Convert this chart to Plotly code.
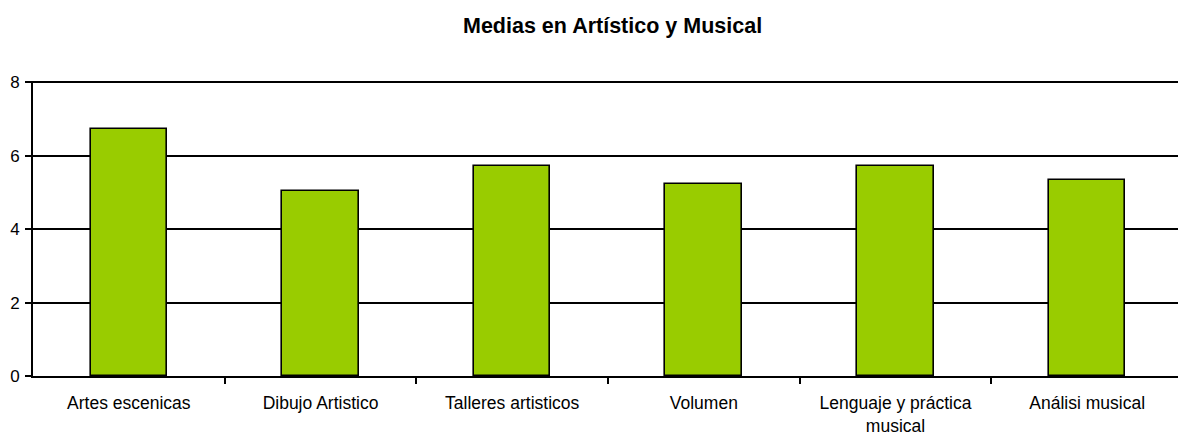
import plotly.graph_objects as go

categories = ["Artes escenicas", "Dibujo Artistico", "Talleres artisticos", "Volumen",
              "Lenguaje y práctica<br>musical", "Análisi musical"]
values = [6.73, 5.05, 5.73, 5.22, 5.73, 5.33]
y_ticks = [0, 2, 4, 6, 8]

fig = go.Figure(go.Bar(
    x=list(range(len(categories))), y=values,
    marker=dict(color="#99CC00", line=dict(color="black", width=1.6)),
    width=0.40,
))

fig.update_layout(
    width=1178, height=438,
    paper_bgcolor="white", plot_bgcolor="white",
    margin=dict(l=33, r=0, t=81, b=62),
    font=dict(family="Liberation Sans, Arial", size=17, color="black"),
    title=dict(text="<b>Medias en Artístico y Musical</b>", x=0.52, xanchor="center",
               y=0.942, yanchor="middle", font=dict(size=21.5, color="black")),
    showlegend=False,
    bargap=0,
    shapes=[dict(type="line", xref="paper", x0=0, x1=1, yref="y",
                 y0=y_ticks[-1], y1=y_ticks[-1], line=dict(color="black", width=1.6),
                 layer="below")],
)
fig.update_xaxes(
    tickmode="array", tickvals=list(range(len(categories))), ticktext=categories,
    range=[-0.5, 5.474], showgrid=False, showline=True, linecolor="black", linewidth=1.6,
    ticks="", zeroline=False, automargin=False, tickfont=dict(size=17.5),
    ticklabelstandoff=10,
)
fig.update_xaxes(minor=dict(tickmode="array", tickvals=[0.5, 1.5, 2.5, 3.5, 4.5],
                            ticks="outside", ticklen=6, tickcolor="black", tickwidth=1.6))
fig.update_yaxes(
    range=[0, 8.035], tickvals=y_ticks, showgrid=True, gridcolor="black", gridwidth=1.6,
    showline=True, linecolor="black", linewidth=1.6, ticks="outside", ticklen=6,
    tickcolor="black", tickwidth=1.6, zeroline=False, automargin=False,
    tickfont=dict(size=17), ticklabelstandoff=2,
)
fig.write_html("out.html", config={"displayModeBar": False},
               post_script="document.body.style.margin='0';document.body.style.overflow='hidden';")
